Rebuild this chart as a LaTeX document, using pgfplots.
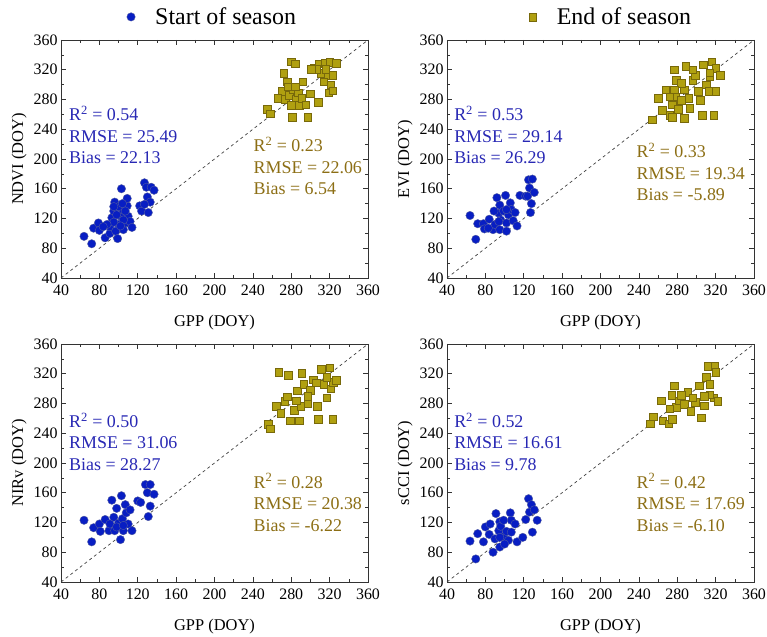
\documentclass[border=0pt]{standalone}
\usepackage{fontspec}
\setmainfont{Liberation Serif}
\usepackage{pgfplots}
\pgfplotsset{compat=1.18}

\definecolor{sosfill}{RGB}{8,30,195}
\definecolor{sosedge}{RGB}{80,90,160}
\definecolor{eosfill}{RGB}{176,160,16}
\definecolor{eosedge}{RGB}{120,105,10}
\definecolor{sostext}{RGB}{40,40,180}
\definecolor{eostext}{RGB}{140,110,20}

\tikzset{
  stats/.style={anchor=north west, inner sep=0pt, align=left,
    font=\fontsize{18}{21.5}\selectfont},
}
\pgfplotsset{
  doyaxis/.style={
    scale only axis,
    width=307bp, height=238bp,
    xmin=40, xmax=360, ymin=40, ymax=360,
    xtick={40,80,...,360}, ytick={40,80,...,360},
    minor x tick num=1, minor y tick num=1,
    tick align=inside,
    major tick length=5bp, minor tick length=3bp,
    axis line style={black!80, line width=0.8pt},
    every tick/.style={black!80, line width=0.6pt},
    tick label style={font=\fontsize{16}{19}\selectfont},
    xticklabel style={yshift=-3bp},
    label style={font=\fontsize{16.5}{19}\selectfont},
    xlabel style={yshift=-13bp},
    /pgf/number format/assume math mode=true,
    xlabel={GPP (DOY)},
    clip=false,
  },
  sos/.style={only marks, mark=*, mark size=4.2bp,
    mark options={fill=sosfill, draw=sosedge, line width=0.4pt}},
  eos/.style={only marks, mark=square*, mark size=3.8bp,
    mark options={fill=eosfill, draw=eosedge, line width=0.4pt}},
  oneone/.style={black!75, dashed, line width=0.7pt, forget plot},
  leg/.style={legend style={draw=none, fill=none,
    font=\fontsize{24}{28}\selectfont, anchor=center}},
  legmark/.style={legend image code/.code={%
      \draw[mark repeat=2, mark phase=2, ##1]
        plot coordinates {(-1bp,0bp) (0bp,0bp) (1bp,0bp)};
      \path (-6bp,0bp) (22bp,0bp);}},
}

\begin{document}
\begin{tikzpicture}
\path[use as bounding box] (0,0) rectangle (767bp,637bp);

% NDVI
\begin{axis}[doyaxis, at={(61bp,359bp)}, anchor=south west,
  ylabel={NDVI (DOY)}, leg, legend style={at={(0.49,1.097)}}]
\addplot[sos, legmark] coordinates {
(64,96) (72,86) (74,107) (79,114) (80,104) (86,94) (91,100) (91,109)
(93,121) (95,130) (96,142) (97,103) (99,93) (100,112) (102,123) (103,160)
(104,132) (105,105) (107,114) (109,137) (109,147) (110,123) (112,116) (114,108)
(105,118) (98,125) (100,136) (122,137) (124,130) (127,168) (129,162) (130,149)
(131,128) (133,142) (134,162) (137,158) (127,139) (95,136) (104,140) (95,115)
(102,110) (107,130) (88,112) (84,109)};
\addlegendentry{Start of season}
\addplot[eos] coordinates {
(255,267) (258,261) (272,315) (276,304) (280,331) (284,328) (281,256) (297,256)
(292,304) (270,291) (266,282) (274,280) (278,286) (282,293) (285,280) (288,272)
(280,272) (287,289) (291,282) (295,273) (300,288) (308,276) (304,323) (309,328)
(315,329) (320,330) (327,329) (311,315) (318,313) (323,313) (314,304) (321,300)
(319,289) (323,292) (306,321) (316,321) (301,321) (277,297) (284,297)};
\addplot[oneone] coordinates {(40,40) (360,360)};
\node[stats, text=sostext] at (rel axis cs:0.026,0.723)
  {R\textsuperscript{2} = 0.54\\RMSE = 25.49\\Bias = 22.13};
\node[stats, text=eostext] at (rel axis cs:0.627,0.592)
  {R\textsuperscript{2} = 0.23\\RMSE = 22.06\\Bias = 6.54};
\end{axis}

% EVI
\begin{axis}[doyaxis, at={(447bp,359bp)}, anchor=south west,
  ylabel={EVI (DOY)}, leg, legend style={at={(0.53,1.097)}}]
\addplot[sos, forget plot] coordinates {
(64,124) (70,92) (72,113) (78,113) (79,106) (84,119) (88,105) (90,112)
(92,148) (94,127) (95,138) (95,105) (96,118) (99,130) (101,151) (102,114)
(102,103) (104,125) (106,141) (107,132) (109,117) (111,128) (113,110) (116,151)
(122,150) (125,172) (124,150) (126,161) (128,140) (127,128) (129,173) (131,155)
(89,130) (94,116) (102,132) (83,107)};
\addplot[eos, legmark] coordinates {
(254,253) (260,282) (264,266) (268,293) (272,259) (275,273) (278,284) (279,306)
(277,320) (275,256) (281,267) (284,279) (287,255) (289,325) (287,293) (292,282)
(293,268) (296,306) (299,313) (302,291) (304,279) (306,259) (307,327) (310,300)
(313,291) (314,311) (316,331) (318,259) (320,291) (320,322) (325,313) (314,316)
(296,320) (284,302) (272,284) (277,293)};
\addlegendentry{End of season}
\addplot[oneone] coordinates {(40,40) (360,360)};
\node[stats, text=sostext] at (rel axis cs:0.023,0.723)
  {R\textsuperscript{2} = 0.53\\RMSE = 29.14\\Bias = 26.29};
\node[stats, text=eostext] at (rel axis cs:0.617,0.567)
  {R\textsuperscript{2} = 0.33\\RMSE = 19.34\\Bias = -5.89};
\end{axis}

% NIRv
\begin{axis}[doyaxis, at={(61bp,55bp)}, anchor=south west,
  ylabel={NIRv (DOY)}]
\addplot[sos] coordinates {
(64,123) (72,94) (74,113) (80,118) (81,108) (86,124) (90,109) (93,150)
(95,127) (96,109) (98,139) (100,119) (102,97) (103,156) (104,125) (105,109)
(107,144) (108,133) (110,118) (112,137) (114,109) (120,149) (123,147) (128,171)
(130,160) (131,128) (133,171) (133,142) (137,158) (91,118) (98,114) (105,116)};
\addplot[eos] coordinates {
(256,252) (258,246) (264,276) (267,322) (269,267) (273,283) (277,318) (279,257)
(283,271) (286,297) (288,257) (290,276) (291,321) (293,306) (297,280) (300,298)
(303,312) (307,276) (308,259) (311,326) (314,306) (317,288) (320,328) (321,300)
(323,259) (324,309) (327,311) (317,315) (306,308) (285,284) (276,289) (297,290)};
\addplot[oneone] coordinates {(40,40) (360,360)};
\node[stats, text=sostext] at (rel axis cs:0.026,0.711)
  {R\textsuperscript{2} = 0.50\\RMSE = 31.06\\Bias = 28.27};
\node[stats, text=eostext] at (rel axis cs:0.627,0.456)
  {R\textsuperscript{2} = 0.28\\RMSE = 20.38\\Bias = -6.22};
\end{axis}

% sCCI
\begin{axis}[doyaxis, at={(447bp,55bp)}, anchor=south west,
  ylabel={sCCI (DOY)}]
\addplot[sos] coordinates {
(64,95) (70,71) (72,105) (78,94) (80,114) (84,104) (88,80) (90,98)
(91,132) (94,109) (95,121) (95,87) (96,115) (99,101) (102,108) (104,96)
(106,133) (107,123) (107,107) (111,118) (113,94) (119,100) (122,124) (125,152)
(126,134) (128,144) (129,107) (131,137) (134,123) (85,118) (99,123) (100,91)
(95,100)};
\addplot[eos] coordinates {
(252,253) (255,262) (263,284) (265,257) (271,253) (274,291) (275,259) (277,304)
(279,275) (282,284) (287,279) (291,295) (294,270) (299,282) (303,304) (305,261)
(308,277) (310,315) (312,330) (314,306) (318,288) (319,330) (320,322) (322,283)
(314,292) (296,288) (284,291) (272,273) (308,290)};
\addplot[oneone] coordinates {(40,40) (360,360)};
\node[stats, text=sostext] at (rel axis cs:0.023,0.711)
  {R\textsuperscript{2} = 0.52\\RMSE = 16.61\\Bias = 9.78};
\node[stats, text=eostext] at (rel axis cs:0.617,0.456)
  {R\textsuperscript{2} = 0.42\\RMSE = 17.69\\Bias = -6.10};
\end{axis}
\end{tikzpicture}
\end{document}
